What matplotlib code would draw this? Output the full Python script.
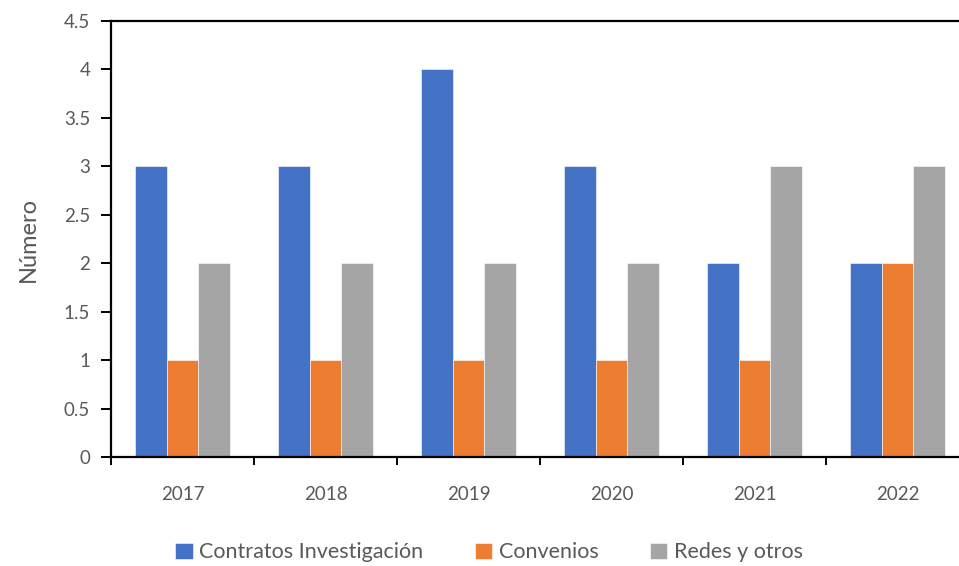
import matplotlib
matplotlib.use("Agg")
import matplotlib.pyplot as plt
import numpy as np

years = ["2017", "2018", "2019", "2020", "2021", "2022"]
contratos = [3, 3, 4, 3, 2, 2]
convenios = [1, 1, 1, 1, 1, 2]
redes = [2, 2, 2, 2, 3, 3]
series_names = ["Contratos Investigación", "Convenios", "Redes y otros"]
colors = ["#4472C4", "#ED7D31", "#A5A5A5"]
yticks = [0, 0.5, 1, 1.5, 2, 2.5, 3, 3.5, 4, 4.5]
ytick_labels = ["0", "0.5", "1", "1.5", "2", "2.5", "3", "3.5", "4", "4.5"]

plt.rcParams["font.family"] = ["Lato", "DejaVu Sans"]
text_color = "#595959"

fig = plt.figure(figsize=(9.59, 5.66), dpi=100)
ax = fig.add_axes([111 / 959, 1 - 457 / 566, 858 / 959, 436 / 566])

x = np.arange(len(years))
width = 0.222
for i, (vals, name, col) in enumerate(zip([contratos, convenios, redes], series_names, colors)):
    ax.bar(x + (i - 1) * width, vals, width, color=col, label=name,
           edgecolor="white", linewidth=0.4)

ax.set_xlim(-0.5, len(years) - 0.5)
ax.set_ylim(0, 4.5)
ax.set_yticks(yticks)
ax.set_yticklabels(ytick_labels)
ax.set_xticks(x)
ax.set_xticklabels(years)
ax.set_xticks(np.arange(len(years) + 1) - 0.5, minor=True)

for side in ["left", "bottom", "top"]:
    ax.spines[side].set_linewidth(1.6)
    ax.spines[side].set_color("black")
ax.spines["right"].set_visible(False)

ax.tick_params(axis="y", length=7, width=1.4, colors="black", labelcolor=text_color,
               labelsize=13.5, pad=8)
ax.tick_params(axis="x", which="major", length=0, labelcolor=text_color,
               labelsize=13.5, pad=21)
ax.tick_params(axis="x", which="minor", length=6, width=1.4, colors="black")

ax.set_ylabel("Número", fontsize=17, color=text_color, labelpad=18)

fig.legend(loc="lower center", ncol=3, bbox_to_anchor=(0.51, -0.028), frameon=False,
           fontsize=15.5, labelcolor=text_color, handlelength=0.8, handleheight=0.8,
           handletextpad=0.3, columnspacing=2.4)

fig.savefig("out.png", dpi=100)
